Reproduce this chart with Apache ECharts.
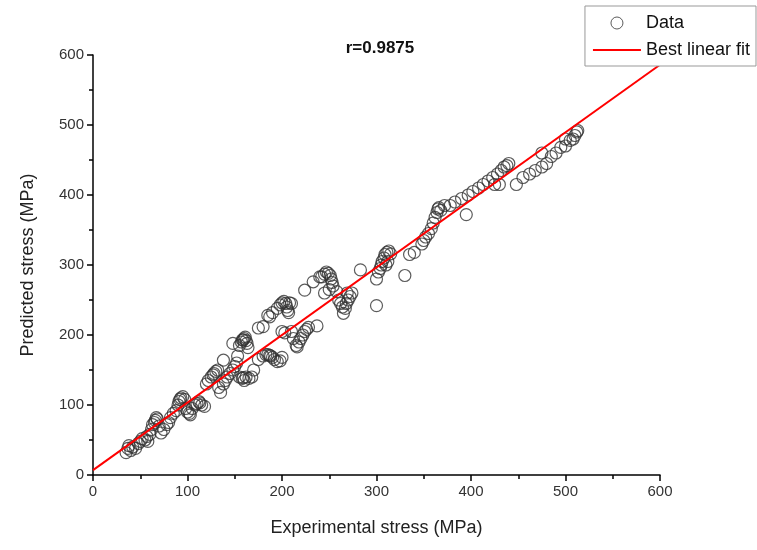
<!DOCTYPE html>
<html>
<head>
<meta charset="utf-8">
<script src="https://cdn.jsdelivr.net/npm/echarts@6/dist/echarts.min.js"></script>
<style>
  html, body { margin: 0; padding: 0; background: #fff; }
  #chart { width: 757px; height: 550px; }
</style>
</head>
<body>
<div id="chart"></div>
<script>
  // experimental vs predicted stress (MPa)
  const expStress = [
    35, 37, 38, 40, 42, 45, 48, 50, 52, 55, 57, 58, 60, 62, 63, 65, 66, 67, 68, 70,
    72, 75, 78, 80, 82, 85, 88, 90, 91, 92, 93, 95, 97, 98, 100, 102, 103, 105, 108, 110,
    112, 113, 115, 118, 120, 122, 125, 127, 128, 130, 132, 133, 135, 138, 138, 140, 142, 145, 148, 148,
    150, 152, 153, 155, 157, 158, 159, 160, 161, 162, 163, 164, 155, 158, 159, 160, 162, 165, 168, 170,
    175, 180, 183, 185, 187, 188, 190, 192, 195, 198, 200, 175, 180, 185, 187, 190, 195, 198, 200, 202,
    204, 205, 206, 207, 208, 210, 200, 203, 210, 212, 215, 216, 218, 220, 222, 224, 226, 228, 237, 224,
    233, 240, 242, 245, 247, 249, 251, 252, 253, 254, 250, 245, 258, 260, 262, 264, 265, 267, 268, 269,
    270, 272, 274, 283, 300, 300, 302, 304, 305, 306, 308, 309, 311, 313, 315, 312, 310, 330, 335, 340,
    348, 350, 352, 355, 358, 360, 362, 364, 365, 366, 368, 372, 378, 383, 390, 395, 397, 402, 408, 413,
    418, 423, 428, 432, 435, 438, 440, 425, 430, 448, 455, 462, 468, 475, 480, 485, 490, 495, 500, 505,
    508, 510, 512, 513, 475, 500
  ];
  const predStress = [
    32, 38, 42, 35, 40, 38, 45, 48, 52, 50, 55, 48, 58, 65, 72, 75, 78, 82, 80, 70,
    60, 65, 72, 75, 82, 88, 92, 100, 105, 108, 110, 112, 108, 95, 90, 88, 86, 95, 100, 102,
    105, 103, 100, 98, 130, 135, 140, 143, 145, 148, 150, 125, 118, 130, 164, 135, 140, 145, 150, 188,
    155, 160, 170, 185, 190, 193, 193, 195, 197, 192, 188, 182, 140, 138, 139, 135, 140, 138, 140, 150,
    165, 170, 172, 172, 171, 170, 168, 165, 162, 163, 168, 210, 212, 228, 226, 232, 238, 243, 246, 248,
    245, 240, 235, 232, 246, 245, 205, 203, 205, 195, 185, 183, 190, 195, 200, 205, 208, 211, 213, 264,
    276, 283, 283, 287, 290, 288, 285, 280, 275, 270, 265, 260, 262, 250, 245, 240, 231, 238, 245, 260,
    250, 255, 260, 293, 242, 280, 290, 295, 300, 305, 310, 315, 318, 320, 316, 305, 300, 285, 315, 318,
    330, 335, 340, 345, 352, 360, 368, 375, 380, 382, 378, 385, 385, 390, 395, 372, 400, 405, 410, 415,
    420, 425, 430, 435, 440, 442, 445, 415, 415, 415, 425, 430, 435, 440, 445, 455, 460, 468, 470, 478,
    480, 485, 490, 492, 460, 480
  ];
  const fitX = [0, 600];
  const fitY = [7, 586];
  const axisTicks = [0, 100, 200, 300, 400, 500, 600];

  const chart = echarts.init(document.getElementById('chart'));

  const fontFamily = 'Liberation Sans, Arial, sans-serif';
  const axisCommon = {
    type: 'value',
    min: axisTicks[0],
    max: axisTicks[axisTicks.length - 1],
    interval: 100,
    nameLocation: 'middle',
    nameTextStyle: { fontFamily, fontSize: 18, color: '#222' },
    axisLine: { show: true, onZero: false, lineStyle: { color: '#000', width: 1.5 } },
    axisTick: { show: true, inside: false, length: 6, lineStyle: { color: '#000', width: 1.5 } },
    minorTick: { show: true, splitNumber: 2, length: 4, lineStyle: { color: '#000', width: 1.5 } },
    axisLabel: { fontFamily, fontSize: 15, color: '#333', margin: 9 },
    splitLine: { show: false }
  };

  chart.setOption({
    animation: false,
    backgroundColor: '#fff',
    title: {
      text: 'r=0.9875',
      left: 375,
      top: 35,
      textAlign: 'center',
      textStyle: { fontFamily, fontSize: 17, fontWeight: 'bold', color: '#111' }
    },
    legend: {
      orient: 'vertical',
      right: 1,
      top: 6,
      padding: [8, 6, 7, 8],
      itemGap: 9,
      itemWidth: 48,
      itemHeight: 12,
      borderColor: '#999',
      borderWidth: 1,
      backgroundColor: '#fff',
      textStyle: { fontFamily, fontSize: 18, color: '#111' },
      data: [
        { name: 'Data', icon: 'circle', itemStyle: { color: 'none', borderColor: '#333', borderWidth: 1 } },
        { name: 'Best linear fit', icon: 'path://M0,0 L48,0 L48,2 L0,2 Z', itemStyle: { color: '#ff0000' } }
      ]
    },
    grid: { left: 93, right: 97, top: 55, bottom: 75, containLabel: false },
    xAxis: Object.assign({}, axisCommon, {
      name: 'Experimental stress (MPa)',
      nameGap: 44
    }),
    yAxis: Object.assign({}, axisCommon, {
      name: 'Predicted stress (MPa)',
      nameGap: 56
    }),
    series: [
      {
        name: 'Data',
        type: 'scatter',
        symbol: 'circle',
        symbolSize: 12,
        data: expStress.map((x, i) => [x, predStress[i]]),
        itemStyle: { color: 'rgba(255,255,255,0)', borderColor: '#333', borderWidth: 1.2 },
        z: 2
      },
      {
        name: 'Best linear fit',
        type: 'line',
        symbol: 'none',
        data: fitX.map((x, i) => [x, fitY[i]]),
        lineStyle: { color: '#ff0000', width: 2 },
        itemStyle: { color: '#ff0000' },
        z: 3
      }
    ]
  });
</script>
</body>
</html>
